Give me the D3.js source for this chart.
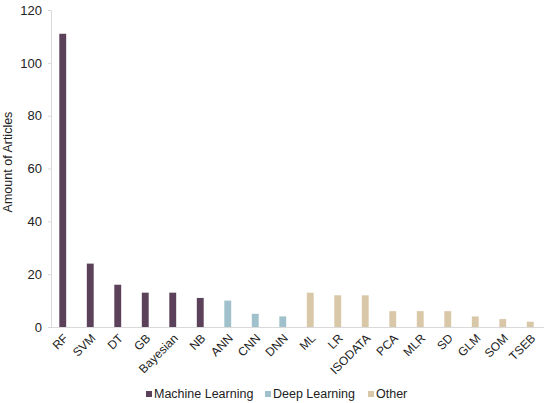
<!DOCTYPE html>
<html><head><meta charset="utf-8">
<script src="https://cdn.jsdelivr.net/npm/d3@7"></script>
<style>body{margin:0;background:#fff;}svg{display:block;font-family:"Liberation Sans",Arial,sans-serif;}</style>
</head><body><svg id="c" width="550" height="403"></svg>
<script>
const categories = ["RF","SVM","DT","GB","Bayesian","NB","ANN","CNN","DNN","ML","LR","ISODATA","PCA","MLR","SD","GLM","SOM","TSEB"];
const values = [111,24,16,13,13,11,10,5,4,13,12,12,6,6,6,4,3,2];
const groups = ["Machine Learning","Machine Learning","Machine Learning","Machine Learning","Machine Learning","Machine Learning","Deep Learning","Deep Learning","Deep Learning","Other","Other","Other","Other","Other","Other","Other","Other","Other"];
const groupNames = ["Machine Learning","Deep Learning","Other"];
const groupColors = ["#5b4159","#a0c1cb","#d9c8a8"];
const yTicks = [0,20,40,60,80,100,120];

const svg = d3.select("#c");
const m = {l:49, r:6, t:10, b:76};
const W = 550, H = 403;
const x = d3.scaleBand().domain(categories).range([m.l, W - m.r]).paddingInner(0.75).paddingOuter(0.375);
const y = d3.scaleLinear().domain([0,120]).range([H - m.b, m.t]);
const color = d3.scaleOrdinal().domain(groupNames).range(groupColors);

// y axis
const ya = svg.append("g").attr("transform", `translate(${m.l + 2},0)`)
  .call(d3.axisLeft(y).tickValues(yTicks).tickSize(3).tickPadding(6));
ya.select(".domain").attr("stroke","#d9d9d9");
ya.selectAll(".tick line").attr("stroke","#d9d9d9");
ya.selectAll("text").attr("font-size",13).attr("fill","#222");

// bars
svg.append("g").selectAll("rect").data(categories).join("rect")
  .attr("x", d => x(d))
  .attr("width", x.bandwidth())
  .attr("y", (d,i) => y(values[i]))
  .attr("height", (d,i) => y(0) - y(values[i]))
  .attr("fill", (d,i) => color(groups[i]));

// x axis
const xa = svg.append("g").attr("transform", `translate(0,${y(0)})`)
  .call(d3.axisBottom(x).tickSize(0).tickPadding(0));
xa.select(".domain").attr("stroke","#d9d9d9").attr("d", `M${m.l + 2},0.5H${W - m.r}`);
xa.selectAll("text").attr("font-size",12).attr("fill","#222")
  .attr("text-anchor","end").attr("y",0).attr("dy","0.35em")
  .attr("transform","translate(3,9) rotate(-45)");

// y title
svg.append("text").attr("transform","translate(12,162) rotate(-90)")
  .attr("text-anchor","middle").attr("font-size",12.5).attr("fill","#222").text("Amount of Articles");

// legend
const legX = [146, 265, 368];
const lg = svg.append("g").selectAll("g").data(groupNames).join("g")
  .attr("transform", (d,i) => `translate(${legX[i]},394)`);
lg.append("rect").attr("x",0).attr("y",-3).attr("width",6).attr("height",6).attr("fill", d => color(d));
lg.append("text").attr("x",8).attr("y",0).attr("dy","0.35em").attr("font-size",12.5).attr("fill","#222").text(d => d);
</script></body></html>
